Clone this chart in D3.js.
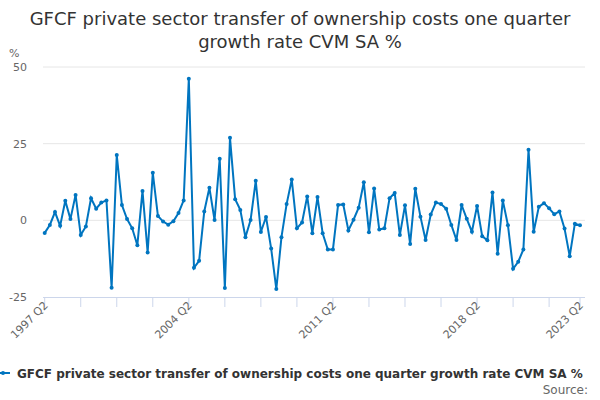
<!DOCTYPE html>
<html><head><meta charset="utf-8">
<script src="https://cdn.jsdelivr.net/npm/d3@7"></script>
<style>body{margin:0;background:#fff;font-family:"DejaVu Sans",sans-serif}</style>
</head><body><svg id="c" width="600" height="400"></svg>
<script>
const values=[-4.1,-1.5,2.7,-1.8,6.4,0.4,8.3,-4.8,-2.0,7.2,3.8,5.8,6.5,-22,21.3,5.0,0.4,-2.6,-8.1,9.6,-10.5,15.5,1.4,-0.4,-1.4,-0.3,2.4,6.5,46.2,-15.5,-13.2,2.9,10.6,0.1,20.1,
-22.1,26.9,6.9,3.4,-5.5,0.1,12.9,-3.8,1.1,-9.2,-22.4,-5.5,5.3,13.3,-2.6,-0.7,7.8,-4.2,7.6,-4.2,-9.5,-9.5,5.0,5.2,-3.3,0.2,4.1,12.4,-3.9,10.4,-3.0,-2.6,7.2,8.9,
-4.8,4.9,-7.7,10.3,1.2,-6.4,1.9,5.8,5.3,3.8,-1.5,-6.4,5.0,0.5,-3.7,4.7,-5.2,-6.5,9.1,-10.9,6.5,-1.6,-15.8,-13.5,-9.5,23.0,-3.7,4.4,5.6,3.9,2.0,2.9,-2.7,-11.7,-1.1,-1.6];
const startYear=1997, startQ=2;
const labels=values.map((_,i)=>{const q=startQ-1+i;return (startYear+Math.floor(q/4))+" Q"+(q%4+1);});
const yTicks=[-25,0,25,50];
const labelIdx=[0,28,56,84,104];
const tickIdx=d3.range(0,105,7).concat([104]);
const svg=d3.select("#c");
const x=d3.scaleLinear().domain([0,104]).range([44.7,580]);
const y=d3.scaleLinear().domain([-25,50]).range([297,67]);
svg.append("text").attr("x",300).attr("y",25).attr("text-anchor","middle").attr("font-size",18).attr("fill","#333").text("GFCF private sector transfer of ownership costs one quarter");
svg.append("text").attr("x",300).attr("y",48).attr("text-anchor","middle").attr("font-size",18).attr("fill","#333").text("growth rate CVM SA %");
svg.append("text").attr("x",9).attr("y",57).attr("font-size",11).attr("fill","#666").text("%");
yTicks.forEach(t=>{
 if(t>-25) svg.append("line").attr("x1",43).attr("x2",585).attr("y1",y(t)).attr("y2",y(t)).attr("stroke","#e6e6e6");
 svg.append("text").attr("x",27).attr("y",y(t)+4).attr("text-anchor","end").attr("font-size",11).attr("fill","#666").text(t);
});
svg.append("line").attr("x1",43).attr("x2",585).attr("y1",297.5).attr("y2",297.5).attr("stroke","#ccd6eb");
tickIdx.forEach(i=>svg.append("line").attr("x1",x(i)).attr("x2",x(i)).attr("y1",297).attr("y2",307).attr("stroke","#ccd6eb"));
labelIdx.forEach(i=>svg.append("text").attr("transform",`translate(${x(i)+4},${306}) rotate(-45)`).attr("text-anchor","end").attr("font-size",11).attr("fill","#666").text(labels[i]));
const line=d3.line().x((d,i)=>x(i)).y(d=>y(d));
svg.append("path").datum(values).attr("d",line).attr("fill","none").attr("stroke","#0075c0").attr("stroke-width",2);
svg.selectAll("circle").data(values).join("circle").attr("cx",(d,i)=>x(i)).attr("cy",d=>y(d)).attr("r",2).attr("fill","#0075c0");
svg.append("line").attr("x1",0).attr("x2",10).attr("y1",373).attr("y2",373).attr("stroke","#0075c0").attr("stroke-width",2);
svg.append("circle").attr("cx",3).attr("cy",373).attr("r",2).attr("fill","#0075c0");
svg.append("text").attr("x",17).attr("y",378).attr("font-size",12).attr("font-weight","bold").attr("fill","#333").text("GFCF private sector transfer of ownership costs one quarter growth rate CVM SA %");
svg.append("text").attr("x",588).attr("y",394).attr("text-anchor","end").attr("font-size",12).attr("fill","#666").text("Source:");
</script></body></html>
